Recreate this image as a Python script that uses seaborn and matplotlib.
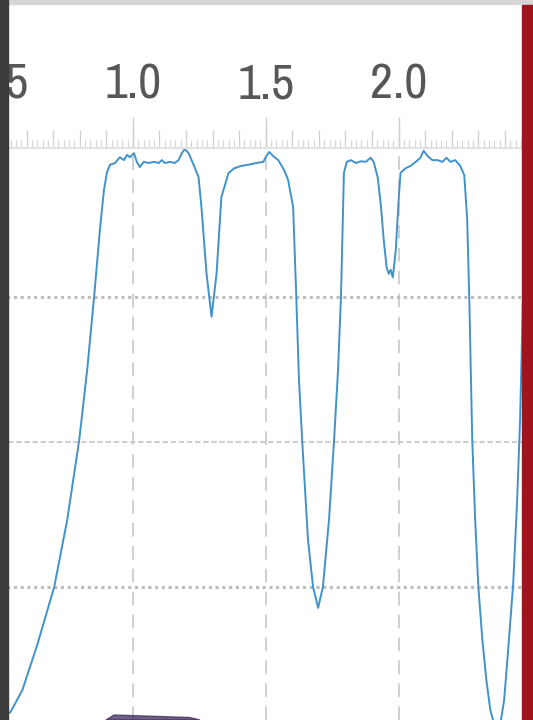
"""Transmission spectrum screenshot: blue trace with three absorption dips."""

import matplotlib

matplotlib.use("Agg")
import matplotlib.pyplot as plt
import numpy as np
import seaborn as sns
from matplotlib import font_manager
from matplotlib.patches import Polygon, Rectangle
from matplotlib.ticker import MultipleLocator

# wavelength (um) and transmission (%)
wavelength = [
    0.509, 0.539, 0.584, 0.640, 0.704, 0.753, 0.798, 0.828, 0.854, 0.876,
    0.891, 0.903, 0.914, 0.933, 0.951, 0.966, 0.978, 0.989, 1.004, 1.015,
    1.026, 1.041, 1.060, 1.079, 1.097, 1.109, 1.120, 1.140, 1.157, 1.172,
    1.184, 1.195, 1.210, 1.221, 1.232, 1.247, 1.258, 1.277, 1.296, 1.315,
    1.333, 1.360, 1.382, 1.408, 1.434, 1.464, 1.491, 1.502, 1.513, 1.528,
    1.547, 1.569, 1.584, 1.603, 1.614, 1.625, 1.637, 1.659, 1.678, 1.697,
    1.715, 1.738, 1.757, 1.772, 1.783, 1.790, 1.794, 1.805, 1.820, 1.839,
    1.858, 1.876, 1.895, 1.906, 1.921, 1.933, 1.944, 1.955, 1.963, 1.970,
    1.978, 1.989, 2.000, 2.007, 2.026, 2.045, 2.064, 2.082, 2.094, 2.109,
    2.127, 2.146, 2.165, 2.180, 2.195, 2.213, 2.232, 2.247, 2.258, 2.266,
    2.277, 2.288, 2.300, 2.315, 2.330, 2.345, 2.360, 2.371, 2.382, 2.397,
    2.412, 2.431, 2.446, 2.457, 2.468, 2.479,
]
transmission = [
    2.6, 3.4, 7.2, 15.0, 25.0, 36.6, 50.3, 62.4, 75.0, 86.6,
    93.4, 96.6, 97.8, 98.1, 99.1, 98.6, 99.5, 99.1, 99.8, 98.3,
    97.4, 98.3, 98.1, 98.3, 98.1, 98.6, 98.1, 98.3, 98.1, 98.6,
    99.8, 100.5, 99.8, 98.6, 97.4, 95.7, 90.5, 79.1, 71.6, 79.1,
    92.2, 96.4, 97.2, 97.6, 97.8, 98.1, 98.3, 99.3, 100.0, 99.3,
    98.6, 96.9, 95.2, 90.5, 76.2, 60.7, 50.3, 33.1, 25.0, 21.4,
    25.0, 36.6, 50.3, 62.4, 75.0, 88.3, 96.4, 98.3, 98.6, 98.1,
    98.4, 98.3, 99.0, 98.3, 95.7, 90.9, 84.8, 80.0, 79.0, 79.7,
    78.4, 82.9, 91.7, 96.4, 97.2, 97.6, 98.3, 99.0, 100.2, 99.3,
    98.6, 98.6, 98.3, 99.0, 98.3, 98.6, 97.6, 96.0, 88.3, 74.5,
    50.3, 36.6, 25.0, 15.9, 9.0, 3.8, 1.2, 0.3, 1.2, 5.5,
    14.1, 25.5, 40.0, 53.8, 75.2, 91.7,
]

x_labels = [0.5, 1.0, 1.5, 2.0]
grid_levels = [25, 50, 75]

sns.set_style("white")
plt.rcParams["font.family"] = ["DejaVu Sans"]

# the screenshot uses a very narrow face; take a condensed one if present
narrow = [f.name for f in font_manager.fontManager.ttflist
          if "Condensed" in f.name or "Narrow" in f.name]
label_font = dict(family=narrow[0], stretch="condensed") if narrow else dict(stretch="condensed")

W, H = 533, 720
fig = plt.figure(figsize=(W / 100, H / 100), dpi=100)
ax = fig.add_axes([0, 0, 1, (H - 148) / H])

sns.lineplot(x=wavelength, y=transmission, ax=ax, color="#4192cb", lw=1.4,
             estimator=None, sort=False)

ax.set_xlim(0.509, 2.5056)
ax.set_ylim(2.07, 100.69)

# ruler on top: labels every 0.5, ticks every 0.1 and 0.02
ax.xaxis.tick_top()
ax.set_xticks(x_labels)
ax.set_xticklabels([f"{v:.1f}" for v in x_labels], fontsize=36, color="#575757",
                   **label_font)
ax.xaxis.set_minor_locator(MultipleLocator(0.02))
ax.tick_params(axis="x", which="major", length=22, width=1, color="#cfcfcf",
               pad=7, direction="out")
ax.tick_params(axis="x", which="minor", length=6, width=0.8, color="#d4d4d4",
               direction="out")
sec = ax.secondary_xaxis("top")
sec.set_xticks(np.arange(0.6, 2.5, 0.1))
sec.tick_params(axis="x", length=13, width=0.9, color="#cfcfcf", labeltop=False)
sec.spines["top"].set_visible(False)

ax.set_yticks([])
for side in ["left", "right", "bottom"]:
    ax.spines[side].set_visible(False)
ax.spines["top"].set_color("#e2e2e2")
ax.spines["top"].set_linewidth(1.5)

# grid: dashed verticals, dotted horizontals (middle one finer)
for v in x_labels[1:]:
    ax.axvline(v, color="#c4c4c4", lw=1.1, ls=(0, (9, 6)), zorder=0)
for i, lvl in enumerate(grid_levels):
    if i == 1:
        ax.axhline(lvl, color="#c8c8c8", lw=1.3, ls=(0, (3, 1.5)), zorder=0)
    else:
        ax.axhline(lvl, color="#bdbdbd", lw=2.2, ls=(0, (1, 1.2)), zorder=0)

# screenshot frame around the chart
fig.patches.append(Rectangle((0, 1 - 3.5 / H), 1, 3.5 / H, transform=fig.transFigure,
                             color="#d6d6d6", zorder=10))
fig.patches.append(Rectangle((0, 0), 8 / W, 1, transform=fig.transFigure,
                             color="#3b3b3b", zorder=10))
fig.patches.append(Rectangle((522 / W, 0), 11 / W, 1 - 4.5 / H,
                             transform=fig.transFigure, color="#a0141e", zorder=10))
fig.patches.append(Polygon([(106 / W, 0), (114 / W, 5 / H), (190 / W, 2.5 / H), (200 / W, 0)],
                           closed=True, transform=fig.transFigure,
                           color="#3d2b5c", alpha=0.75, zorder=10))

fig.savefig("out.png", dpi=100)
